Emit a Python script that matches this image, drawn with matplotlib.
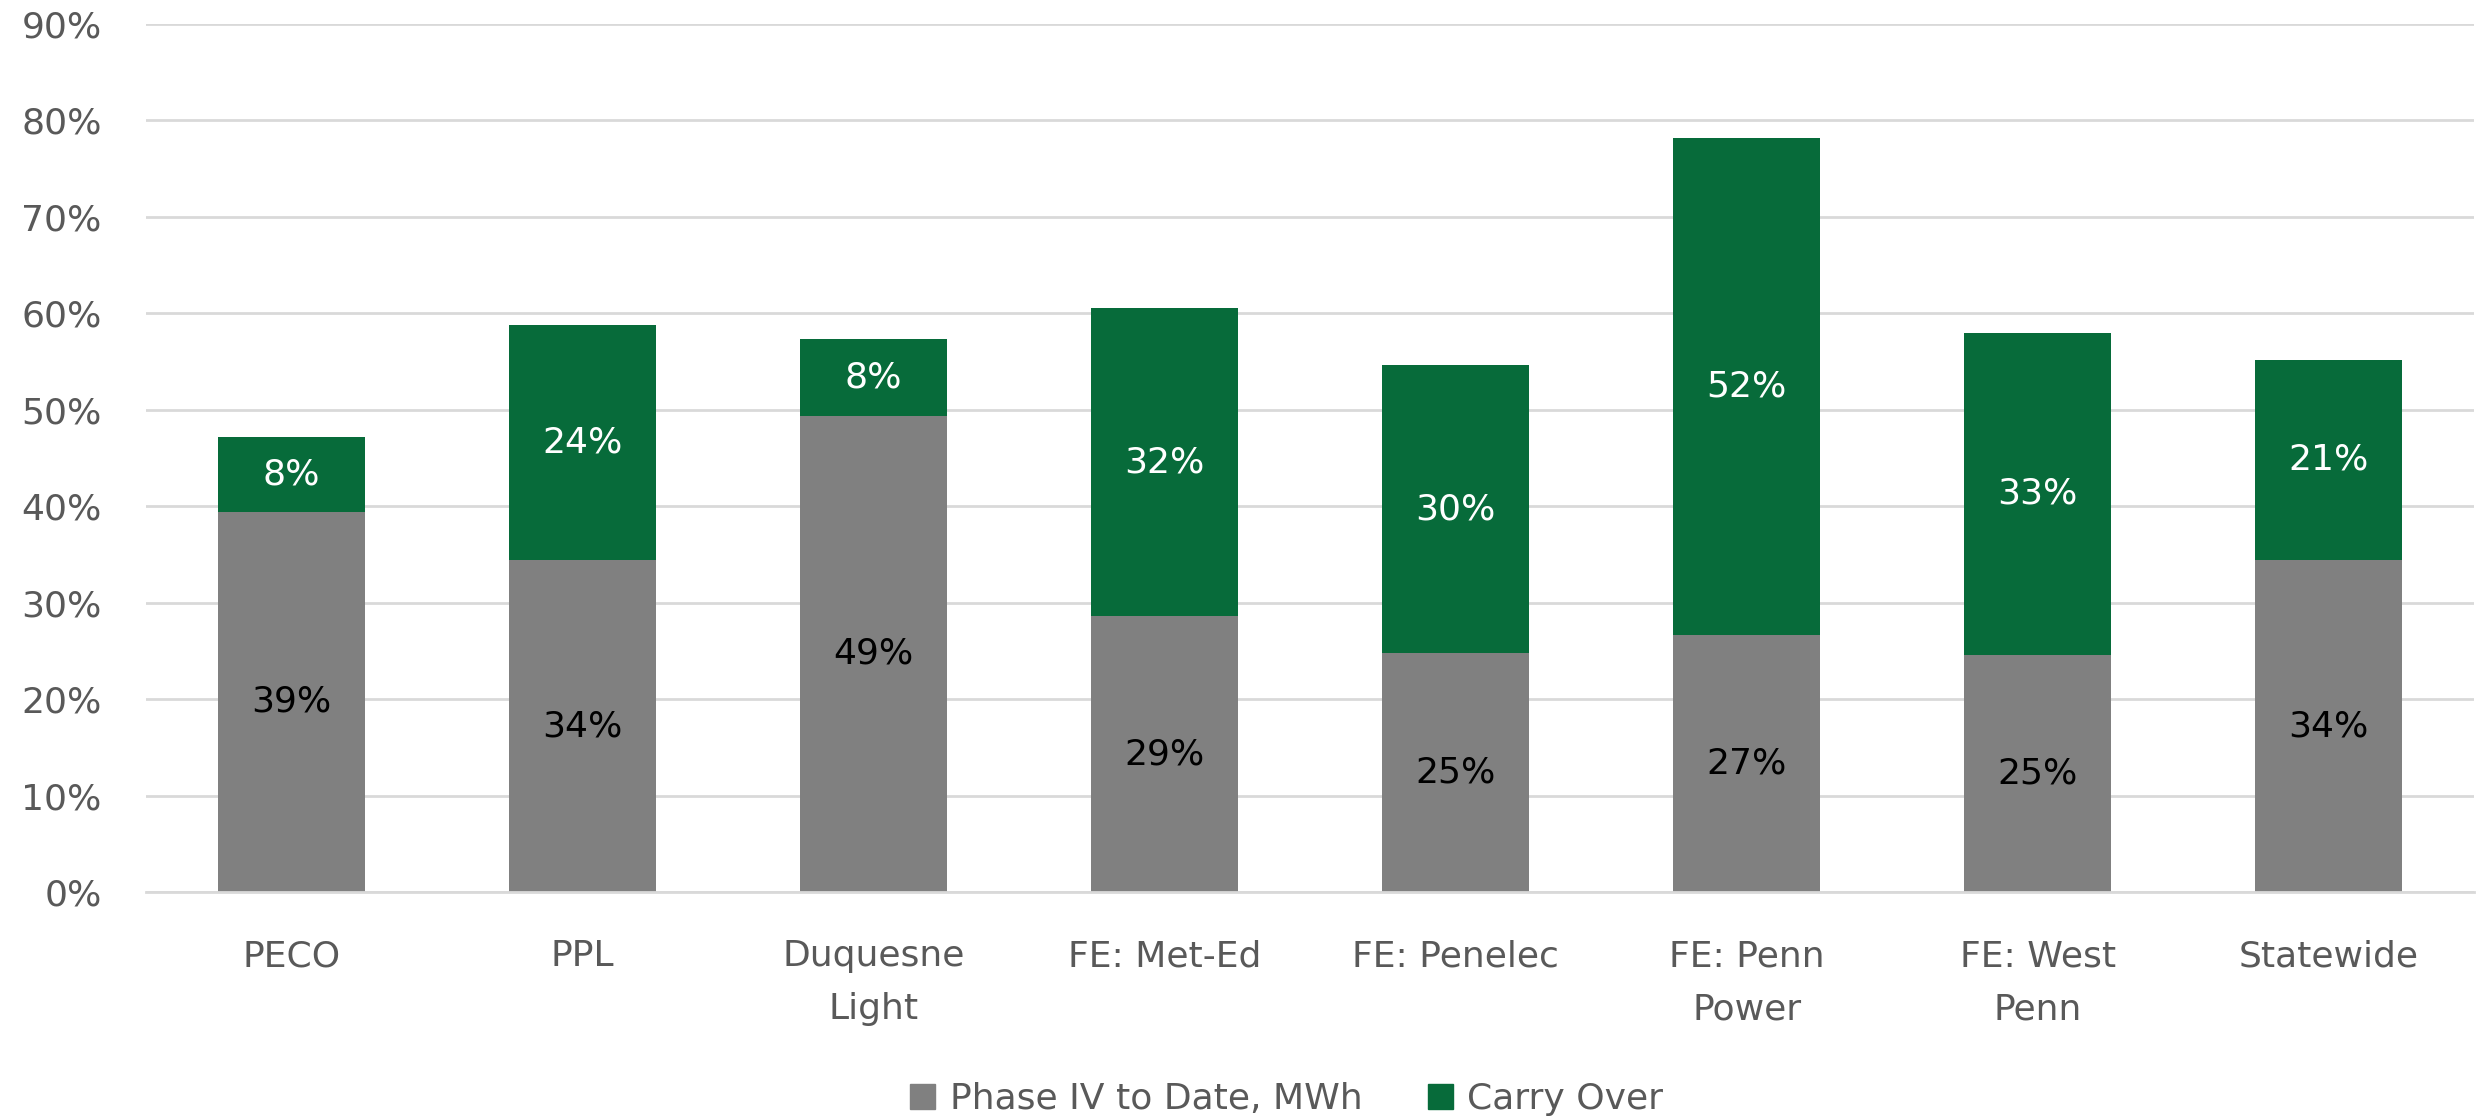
import numpy as np
import matplotlib
matplotlib.use('Agg')
import matplotlib.pyplot as plt
from matplotlib.patches import Patch

categories = ['PECO', 'PPL', 'Duquesne\nLight', 'FE: Met-Ed', 'FE: Penelec',
              'FE: Penn\nPower', 'FE: West\nPenn', 'Statewide']
phase_iv = [39.4, 34.4, 49.4, 28.6, 24.8, 26.6, 24.6, 34.4]
carry_over = [7.8, 24.4, 7.9, 31.9, 29.8, 51.6, 33.4, 20.8]
y_ticks = [0, 10, 20, 30, 40, 50, 60, 70, 80, 90]

GREY = '#808080'
GREEN = '#076B3A'
TEXT = '#595959'
FS = 26

plt.rcParams['font.family'] = ['DejaVu Sans']

fig = plt.figure(figsize=(24.89, 11.19), dpi=100)
ax = fig.add_axes([0.0587, 0.2029, 0.9353, 0.7757])

x = np.arange(len(categories))
w = 0.505
ax.bar(x, phase_iv, width=w, color=GREY, zorder=2)
ax.bar(x, carry_over, width=w, bottom=phase_iv, color=GREEN, zorder=2)

# data labels in the middle of each segment
for i in range(len(x)):
    ax.text(x[i], phase_iv[i] / 2, f'{round(phase_iv[i])}%', ha='center', va='center',
            fontsize=FS, color='black', zorder=3)
    ax.text(x[i], phase_iv[i] + carry_over[i] / 2, f'{round(carry_over[i])}%',
            ha='center', va='center', fontsize=FS, color='white', zorder=3)

ax.set_xlim(-0.5, len(categories) - 0.5)
ax.set_ylim(0, 90)
ax.set_yticks(y_ticks)
ax.set_yticklabels([f'{t}%' for t in y_ticks])
ax.yaxis.grid(True, color='#D9D9D9', linewidth=2, zorder=0)
ax.set_axisbelow(True)
ax.set_xticks(x)
ax.set_xticklabels(categories, linespacing=1.7)
ax.tick_params(axis='y', length=0, pad=32, labelsize=FS, labelcolor=TEXT)
ax.tick_params(axis='x', length=0, pad=34, labelsize=FS, labelcolor=TEXT)

for s in ['top', 'right', 'left']:
    ax.spines[s].set_visible(False)
ax.spines['bottom'].set_color('#D9D9D9')
ax.spines['bottom'].set_linewidth(2)

handles = [Patch(color=GREY, label='Phase IV to Date, MWh'),
           Patch(color=GREEN, label='Carry Over')]
fig.legend(handles=handles, loc='center', bbox_to_anchor=(0.517, 0.018), ncol=2,
           frameon=False, fontsize=FS, labelcolor=TEXT, handlelength=0.7,
           handleheight=0.7, handletextpad=0.4, columnspacing=1.8)

fig.savefig('out.png', dpi=100)
